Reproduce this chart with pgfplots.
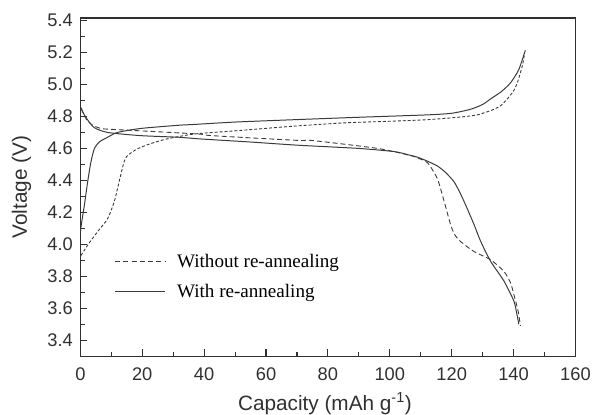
\documentclass[border=0pt]{standalone}
\usepackage{fontspec}
\setmainfont{Liberation Serif}
\newfontfamily\arial{Liberation Sans}
\usepackage{pgfplots}
\pgfplotsset{compat=1.18}
\definecolor{curve}{HTML}{3A3A3A}
\definecolor{axc}{HTML}{303030}
\begin{document}
\begin{tikzpicture}
\begin{axis}[
  scale only axis,
  width=499bp, height=341bp,
  xmin=0, xmax=160, ymin=3.3, ymax=5.417,
  xtick={0,20,...,160}, ytick={3.4,3.6,...,5.41},
  minor x tick num=1, minor y tick num=1,
  tick align=inside,
  xtick pos=bottom, ytick pos=left,
  major tick length=7bp, minor tick length=4.5bp,
  every tick/.style={axc, line width=1.1bp},
  axis line style={axc, line width=1.3bp},
  /pgf/number format/assume math mode=true,
  yticklabel style={xshift=-4bp, /pgf/number format/fixed, /pgf/number format/fixed zerofill, /pgf/number format/precision=1},
  ticklabel style={font=\arial\fontsize{18.5}{21}\selectfont, text=axc},
  xticklabel style={yshift=-8bp},
  xlabel={\arial Capacity (mAh g\textsuperscript{-1})},
  ylabel={\arial Voltage (V)},
  label style={font=\arial\fontsize{21}{24}\selectfont, text=axc, inner sep=0pt},
  xlabel style={at={(axis description cs:0.494,-0.16)}, anchor=base},
  ylabel style={at={(axis description cs:-0.108,0.5)}, anchor=base},
  legend cell align=left,
  legend image code/.code={\draw[#1] (0bp,0bp) -- (50bp,0bp);},
  legend style={draw=none, fill=none, at={(rel axis cs:0.069,0.236)}, anchor=west,
    font=\fontsize{19.3}{22}\selectfont, inner sep=0pt, row sep=11bp, column sep=9bp,
    nodes={inner xsep=3bp}},
  after end axis/.code={
    \path (rel axis cs:0,0) ++(-81bp,-59bp) coordinate (bbsw);
    \path (rel axis cs:1,1) ++(14bp,18bp) coordinate (bbne);
  },
]
\addlegendimage{curve, line width=0.9bp, dash pattern=on 5bp off 3.3bp}
\addlegendentry{Without re-annealing}
\addlegendimage{curve, line width=0.9bp}
\addlegendentry{With re-annealing}

% charge, with re-annealing
\addplot[curve, line width=1bp, smooth, tension=0.4, forget plot] coordinates {
(0,4.08) (0.6,4.16) (1.3,4.245) (2.35,4.39) (3.4,4.514) (4.5,4.597) (6.1,4.64) (8.8,4.67)
(12,4.70) (19.5,4.725) (31.8,4.745) (36.7,4.75) (50,4.765) (69.4,4.78) (90,4.795)
(112.2,4.81) (120,4.82) (126.1,4.845) (130,4.875) (132.6,4.91) (136,4.955) (139,5.01)
(141.7,5.094) (143.8,5.214)};
% charge, without re-annealing
\addplot[curve, line width=0.9bp, dash pattern=on 3bp off 2bp, smooth, tension=0.4, forget plot] coordinates {
(0.2,3.93) (2.4,3.996) (5.6,4.08) (8.8,4.16) (11,4.27) (12.5,4.39) (14.1,4.514) (15.2,4.555)
(18.4,4.597) (22.7,4.63) (28.1,4.66) (36.7,4.69) (50,4.71) (69.4,4.74) (85.4,4.76) (100,4.77)
(112.2,4.78) (122,4.795) (128.3,4.81) (133.7,4.845) (136,4.87) (138,4.91) (140,4.96)
(141.2,5.01) (142.8,5.114) (143.5,5.187)};
% discharge, with re-annealing
\addplot[curve, line width=1bp, smooth, tension=0.4, forget plot] coordinates {
(0.2,4.856) (1,4.82) (2.3,4.78) (4.5,4.73) (8.8,4.70) (19.5,4.68) (31.8,4.67) (38.3,4.66)
(55,4.64) (70.4,4.62) (90,4.60) (101.5,4.58) (106,4.56) (109,4.545) (112.2,4.52) (115.4,4.49)
(118,4.45) (120.8,4.39) (123,4.31) (125.1,4.22) (127.3,4.12) (129.4,4.017) (132.6,3.893)
(136.9,3.77) (140.1,3.645) (141,3.57) (141.7,3.50)};
% discharge, without re-annealing
\addplot[curve, line width=0.9bp, dash pattern=on 5bp off 3bp, smooth, tension=0.4, forget plot] coordinates {
(0.2,4.85) (2,4.78) (4,4.745) (6.6,4.725) (9.3,4.72) (19.5,4.71) (38.3,4.69) (42.5,4.68)
(70.4,4.65) (74.7,4.65) (96.1,4.60) (106.8,4.555) (109,4.54) (112.2,4.51) (115.4,4.41)
(117.6,4.266) (119.7,4.12) (121,4.06) (122.9,4.017) (127.2,3.955) (132.6,3.903) (136.9,3.83)
(139,3.76) (140.1,3.686) (141.5,3.58) (142.2,3.49)};
\end{axis}
\path (bbsw) rectangle (bbne);
\end{tikzpicture}
\end{document}
